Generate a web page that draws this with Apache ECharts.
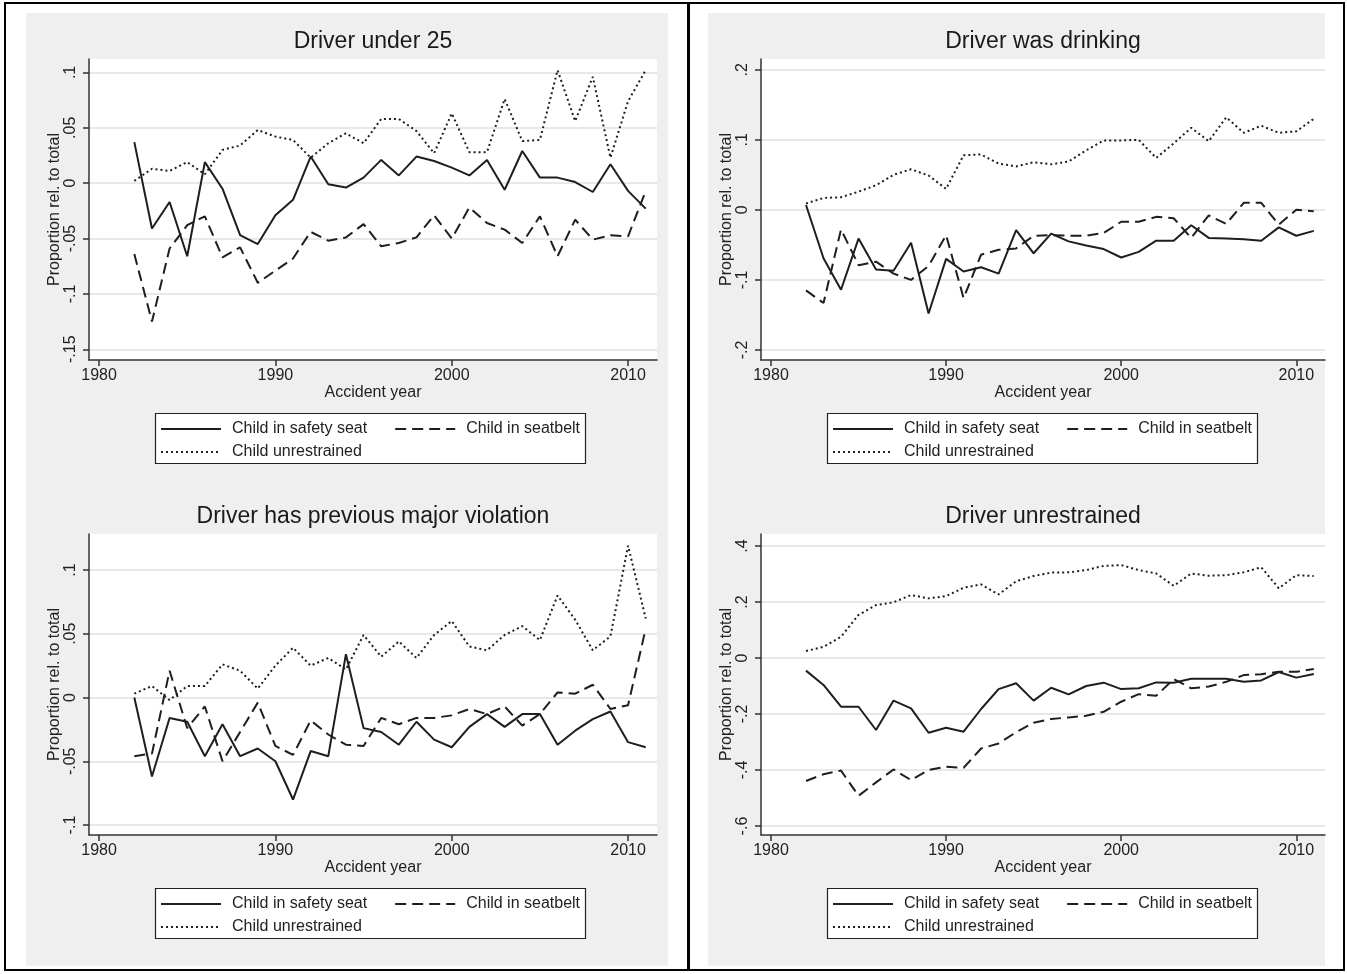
<!DOCTYPE html>
<html><head><meta charset="utf-8">
<script src="https://cdn.jsdelivr.net/npm/echarts/dist/echarts.min.js"></script>
<style>html,body{margin:0;padding:0;background:#fff}#c{width:1347px;height:974px}</style>
</head><body><div id="c"></div>
<script>
// ---------- DATA ----------
const years = [1982,1983,1984,1985,1986,1987,1988,1989,1990,1991,1992,1993,1994,1995,1996,1997,1998,1999,2000,2001,2002,2003,2004,2005,2006,2007,2008,2009,2010,2011];
const seriesNames = ['Child in safety seat', 'Child in seatbelt', 'Child unrestrained'];
const panelTitles = ['Driver under 25', 'Driver was drinking', 'Driver has previous major violation', 'Driver unrestrained'];
const xAxisTitle = 'Accident year';
const yAxisTitle = 'Proportion rel. to total';
const xTickValues = [1980, 1990, 2000, 2010];

// Panel 1: Driver under 25
const under25Seat = [0.037,-0.041,-0.017,-0.066,0.019,-0.005,-0.047,-0.055,-0.029,-0.015,0.024,-0.001,-0.004,0.005,0.021,0.007,0.024,0.020,0.014,0.007,0.021,-0.006,0.029,0.005,0.005,0.001,-0.008,0.017,-0.007,-0.023];
const under25Belt = [-0.064,-0.125,-0.059,-0.038,-0.030,-0.067,-0.058,-0.090,-0.079,-0.068,-0.044,-0.052,-0.049,-0.037,-0.057,-0.054,-0.049,-0.029,-0.050,-0.022,-0.036,-0.042,-0.054,-0.030,-0.066,-0.033,-0.051,-0.047,-0.048,-0.007];
const under25Unr  = [0.002,0.013,0.011,0.019,0.008,0.030,0.034,0.048,0.042,0.039,0.023,0.036,0.045,0.036,0.058,0.058,0.047,0.027,0.063,0.028,0.028,0.076,0.038,0.039,0.102,0.056,0.096,0.023,0.074,0.102];
const under25TickValues = [-0.15,-0.1,-0.05,0,0.05,0.1];
const under25TickLabels = ['-.15','-.1','-.05','0','.05','.1'];

// Panel 2: Driver was drinking
const drinkSeat = [0.007,-0.069,-0.114,-0.041,-0.085,-0.087,-0.047,-0.148,-0.070,-0.088,-0.082,-0.091,-0.029,-0.062,-0.034,-0.045,-0.051,-0.056,-0.068,-0.060,-0.044,-0.044,-0.022,-0.040,-0.041,-0.042,-0.044,-0.025,-0.037,-0.030];
const drinkBelt = [-0.115,-0.133,-0.028,-0.079,-0.074,-0.091,-0.100,-0.080,-0.036,-0.126,-0.064,-0.057,-0.055,-0.037,-0.036,-0.037,-0.037,-0.033,-0.017,-0.017,-0.010,-0.012,-0.040,-0.008,-0.020,0.010,0.010,-0.021,0.000,-0.002];
const drinkUnr  = [0.009,0.017,0.018,0.026,0.035,0.050,0.058,0.049,0.030,0.078,0.079,0.066,0.062,0.068,0.065,0.069,0.085,0.099,0.099,0.100,0.074,0.095,0.117,0.098,0.132,0.110,0.120,0.110,0.112,0.130];
const drinkTickValues = [-0.2,-0.1,0,0.1,0.2];
const drinkTickLabels = ['-.2','-.1','0','.1','.2'];

// Panel 3: Driver has previous major violation
const violSeat = [0.000,-0.062,-0.016,-0.019,-0.046,-0.021,-0.046,-0.040,-0.050,-0.080,-0.042,-0.046,0.034,-0.024,-0.027,-0.037,-0.019,-0.033,-0.039,-0.023,-0.013,-0.023,-0.013,-0.013,-0.037,-0.026,-0.017,-0.011,-0.035,-0.039];
const violBelt = [-0.046,-0.044,0.021,-0.024,-0.007,-0.050,-0.027,-0.004,-0.038,-0.045,-0.018,-0.029,-0.037,-0.038,-0.016,-0.021,-0.016,-0.016,-0.014,-0.009,-0.013,-0.007,-0.022,-0.013,0.004,0.003,0.010,-0.009,-0.006,0.054];
const violUnr  = [0.003,0.009,-0.002,0.009,0.009,0.026,0.021,0.007,0.025,0.039,0.025,0.031,0.022,0.049,0.032,0.044,0.031,0.049,0.060,0.040,0.037,0.049,0.056,0.045,0.080,0.061,0.037,0.048,0.119,0.062];
const violTickValues = [-0.1,-0.05,0,0.05,0.1];
const violTickLabels = ['-.1','-.05','0','.05','.1'];

// Panel 4: Driver unrestrained
const unrSeat = [-0.045,-0.096,-0.174,-0.174,-0.257,-0.152,-0.180,-0.267,-0.249,-0.263,-0.182,-0.111,-0.090,-0.152,-0.106,-0.130,-0.100,-0.088,-0.111,-0.108,-0.087,-0.088,-0.074,-0.074,-0.074,-0.085,-0.080,-0.050,-0.070,-0.057];
const unrBelt = [-0.439,-0.415,-0.402,-0.492,-0.444,-0.398,-0.436,-0.400,-0.388,-0.392,-0.323,-0.305,-0.265,-0.231,-0.218,-0.212,-0.206,-0.192,-0.156,-0.129,-0.135,-0.075,-0.108,-0.102,-0.085,-0.061,-0.058,-0.049,-0.049,-0.039];
const unrUnr  = [0.025,0.040,0.076,0.154,0.189,0.199,0.225,0.213,0.221,0.251,0.263,0.227,0.274,0.293,0.305,0.306,0.314,0.329,0.332,0.314,0.302,0.258,0.302,0.294,0.296,0.306,0.324,0.249,0.296,0.293];
const unrTickValues = [-0.6,-0.4,-0.2,0,0.2,0.4];
const unrTickLabels = ['-.6','-.4','-.2','0','.2','.4'];

// ---------- LAYOUT / STYLE ----------
const FONT = '"Liberation Sans", Arial, sans-serif';
const INK = '#1e1e1e';
const gridBoxes = [
  {left: 89,  top: 59,  width: 568, height: 301},
  {left: 761, top: 59,  width: 564, height: 301},
  {left: 89,  top: 534, width: 568, height: 301},
  {left: 761, top: 534, width: 564, height: 301}
];
const yRanges = [
  {min: -0.1597, max: 0.1121},
  {min: -0.2143, max: 0.2153},
  {min: -0.1078, max: 0.1282},
  {min: -0.632,  max: 0.4429}
];
const xRange = {min: 1979.43, max: 2011.64};
const lineTypes = ['solid', [11, 6], [2, 3]];

const panels = [
  {title: panelTitles[0], values: [under25Seat, under25Belt, under25Unr], ticks: under25TickValues, labels: under25TickLabels},
  {title: panelTitles[1], values: [drinkSeat, drinkBelt, drinkUnr], ticks: drinkTickValues, labels: drinkTickLabels},
  {title: panelTitles[2], values: [violSeat, violBelt, violUnr], ticks: violTickValues, labels: violTickLabels},
  {title: panelTitles[3], values: [unrSeat, unrBelt, unrUnr], ticks: unrTickValues, labels: unrTickLabels}
];

const grids = [], xAxes = [], yAxes = [], series = [], legends = [], graphics = [];

// backgrounds
graphics.push({type: 'rect', z: -100, shape: {x: 26, y: 13, width: 642, height: 953}, style: {fill: '#efefef'}});
graphics.push({type: 'rect', z: -100, shape: {x: 708, y: 13, width: 617, height: 953}, style: {fill: '#efefef'}});

panels.forEach((p, i) => {
  const g = gridBoxes[i];
  grids.push({left: g.left, top: g.top, width: g.width, height: g.height, show: true, backgroundColor: '#ffffff', borderWidth: 0, containLabel: false});
  xAxes.push({
    type: 'value', gridIndex: i, min: xRange.min, max: xRange.max,
    name: xAxisTitle, nameLocation: 'middle', nameGap: 25,
    nameTextStyle: {fontFamily: FONT, fontSize: 16, color: '#222'},
    axisLine: {show: true, onZero: false, lineStyle: {color: '#333', width: 1.5}},
    axisTick: {show: true, length: 6, lineStyle: {color: '#333', width: 1.5}, customValues: xTickValues},
    axisLabel: {customValues: xTickValues, fontFamily: FONT, fontSize: 16, color: '#222', margin: 8, formatter: v => String(Math.round(v))},
    splitLine: {show: false}
  });
  yAxes.push({
    type: 'value', gridIndex: i, min: yRanges[i].min, max: yRanges[i].max,
    name: yAxisTitle, nameLocation: 'middle', nameGap: 19,
    nameTextStyle: {fontFamily: FONT, fontSize: 16, color: '#222'},
    axisLine: {show: true, onZero: false, lineStyle: {color: '#333', width: 1.5}},
    axisTick: {show: true, length: 6, lineStyle: {color: '#333', width: 1.5}, customValues: p.ticks},
    axisLabel: {customValues: p.ticks, rotate: 90, fontFamily: FONT, fontSize: 16, color: '#222', margin: 10,
      formatter: v => { const k = p.ticks.findIndex(t => Math.abs(t - v) < 1e-9); return k >= 0 ? p.labels[k] : ''; }},
    splitLine: {show: true, lineStyle: {color: '#e8e8e8', width: 2}}
  });
  p.values.forEach((arr, k) => {
    series.push({
      type: 'line', name: seriesNames[k], xAxisIndex: i, yAxisIndex: i,
      symbol: 'none', animation: false, silent: true,
      data: years.map((y, j) => [y, arr[j]]),
      lineStyle: {color: INK, width: 2, type: lineTypes[k]},
      itemStyle: {color: INK}
    });
  });
  // title
  graphics.push({type: 'text', z: 50, x: g.left + g.width / 2, y: g.top - 17,
    style: {text: p.title, font: '23px ' + FONT, fill: '#1a1a1a', align: 'center', verticalAlign: 'middle'}});
  // legend box
  const bx = g.left + 66, by = g.top + 354;
  graphics.push({type: 'rect', z: -50, shape: {x: bx + 0.5, y: by + 0.5, width: 430, height: 50},
    style: {fill: '#ffffff', stroke: '#222', lineWidth: 1.2}});
  const legendCommon = {orient: 'horizontal', itemWidth: 60, itemHeight: 14, itemGap: 27, padding: 0,
    selectedMode: false,
    itemStyle: {color: 'rgba(0,0,0,0)', borderColor: 'rgba(0,0,0,0)', borderWidth: 0, opacity: 0},
    textStyle: {fontFamily: FONT, fontSize: 16, color: '#222', lineHeight: 18, padding: [0, 0, 0, 6]}};
  legends.push(Object.assign({}, legendCommon, {data: [seriesNames[0], seriesNames[1]], left: bx + 5, top: by + 7}));
  legends.push(Object.assign({}, legendCommon, {data: [seriesNames[2]], left: bx + 5, top: by + 30}));
});

// outer borders
graphics.push({type: 'rect', z: 100, shape: {x: 5, y: 3, width: 1339, height: 967}, style: {fill: 'none', stroke: '#000', lineWidth: 2}});
graphics.push({type: 'line', z: 100, shape: {x1: 688.5, y1: 3, x2: 688.5, y2: 970}, style: {stroke: '#000', lineWidth: 3}});

const chart = echarts.init(document.getElementById('c'), null, {renderer: 'canvas'});
chart.setOption({
  backgroundColor: '#ffffff',
  animation: false,
  grid: grids, xAxis: xAxes, yAxis: yAxes, series: series, legend: legends,
  graphic: {elements: graphics}
});
</script>
</body></html>
